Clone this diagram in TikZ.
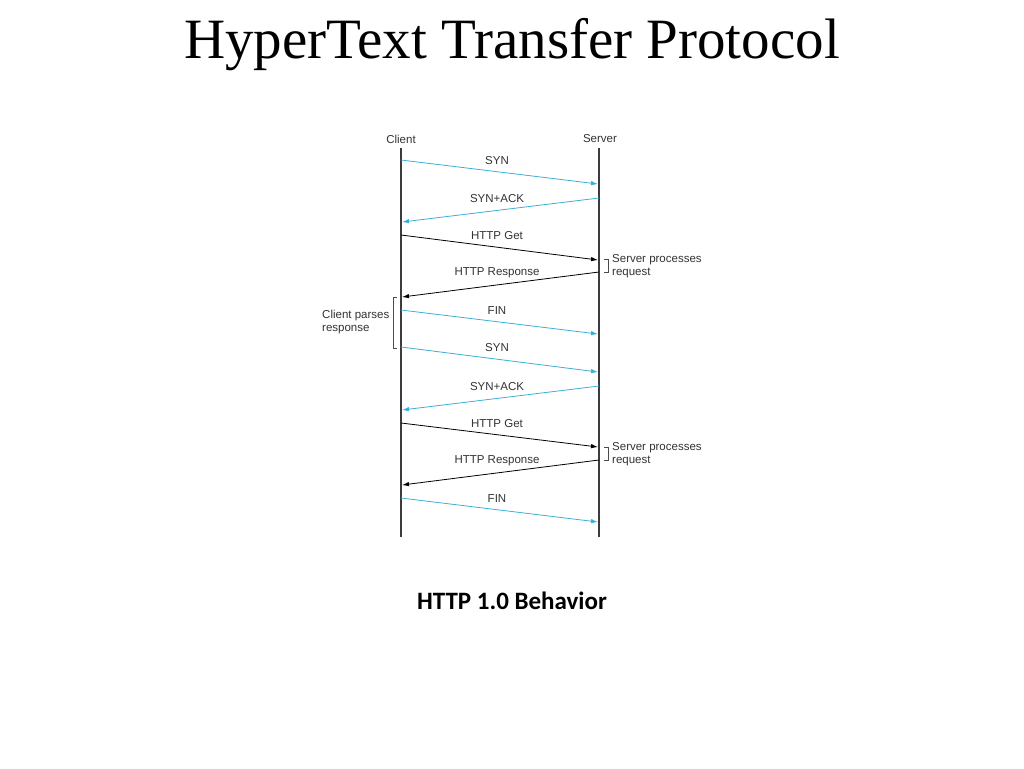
\documentclass[tikz,border=0pt]{standalone}
\usepackage{fontspec}
\setmainfont{Liberation Serif}
\newfontfamily\arialf{Liberation Sans}
\newfontfamily\calibrif{Carlito}
\usetikzlibrary{arrows.meta}
\definecolor{msgblue}{RGB}{60,175,215}
\definecolor{linegray}{RGB}{60,60,60}
\tikzset{
  life/.style={draw=linegray, line width=1.2pt},
  msg/.style={line width=0.8pt, -{Latex[length=7pt,width=4.5pt]}},
  ctl/.style={msg, draw=msgblue},
  dat/.style={msg, draw=black},
  lbl/.style={font=\arialf\fontsize{11.5}{13}\selectfont, text=black!80, inner sep=0pt},
  side/.style={lbl, anchor=west, align=left, font=\arialf\fontsize{11.5}{13.5}\selectfont},
  brk/.style={draw=black!70, line width=0.7pt},
}
\begin{document}
\begin{tikzpicture}[x=1pt,y=-1pt]
\useasboundingbox[fill=white] (0,0) rectangle (1024,768);
\node[font=\fontsize{57}{60}\selectfont, inner sep=0pt] (title) at (512,45) {HyperText Transfer Protocol};
\node[lbl] (client) at (401,139) {Client};
\node[lbl] (server) at (600,139) {Server};
\coordinate (ctop) at (401,148); \coordinate (cbot) at (401,537);
\coordinate (stop) at (599,148); \coordinate (sbot) at (599,537);
\draw[life] (ctop) -- (cbot);
\draw[life] (stop) -- (sbot);
% messages
\foreach \n/\ya/\yb/\dir/\sty/\txt in {
  1/160/184/r/ctl/SYN,
  2/198/222/l/ctl/SYN+ACK,
  3/235/260/r/dat/HTTP Get,
  4/272/297/l/dat/HTTP Response,
  5/310/334/r/ctl/FIN,
  6/347/372/r/ctl/SYN,
  7/386/410/l/ctl/SYN+ACK,
  8/423/447/r/dat/HTTP Get,
  9/460/485/l/dat/HTTP Response,
  10/498/522/r/ctl/FIN}{
  \if r\dir
    \coordinate (a\n) at (401,\ya); \coordinate (b\n) at (598,\yb);
  \else
    \coordinate (a\n) at (599,\ya); \coordinate (b\n) at (402,\yb);
  \fi
  \draw[\sty] (a\n) -- (b\n);
  \node[lbl] (m\n) at (497,\ya+1) {\txt};
}
% server brackets
\coordinate (sb1t) at (604,259); \coordinate (sb1b) at (604,272);
\draw[brk] (sb1t) -- ++(4,0) -- ++(0,13) -- (sb1b);
\node[side] (sp1) at (612,266) {Server processes\\request};
\coordinate (sb2t) at (604,447); \coordinate (sb2b) at (604,460);
\draw[brk] (sb2t) -- ++(4,0) -- ++(0,13) -- (sb2b);
\node[side] (sp2) at (612,454) {Server processes\\request};
% client bracket
\coordinate (cbt) at (397,297); \coordinate (cbb) at (397,348);
\draw[brk] (cbt) -- ++(-4,0) -- ++(0,51) -- (cbb);
\node[side] (cp) at (322,322) {Client parses\\response};
\node[font=\calibrif\bfseries\fontsize{25}{28}\selectfont, inner sep=0pt] (cap) at (512,601) {HTTP 1.0 Behavior};
\end{tikzpicture}
\end{document}
